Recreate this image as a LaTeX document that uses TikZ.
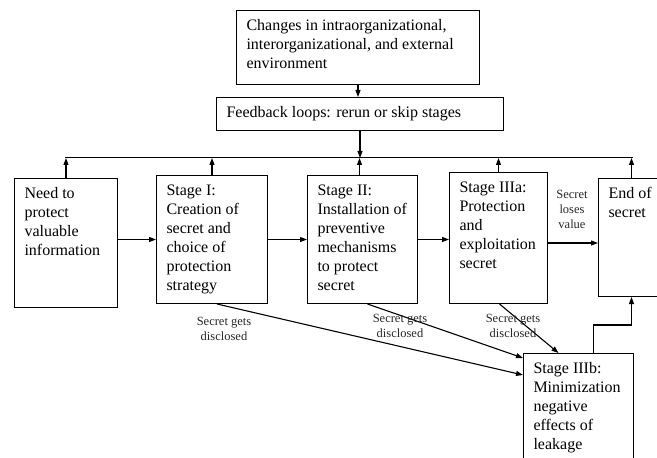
\documentclass[tikz,border=0pt]{standalone}
\usepackage{fontspec}
\setmainfont{Liberation Serif}
\usetikzlibrary{arrows.meta,calc}
\newcommand{\bxtext}[3]{\hspace*{10bp}\parbox[t][\dimexpr#2bp-14bp\relax][t]{\dimexpr#1bp-20bp\relax}{\raggedright\strut#3}\hspace*{10bp}}
\tikzset{
  stagebox/.style={draw, line width=1bp, inner xsep=0pt, inner ysep=7bp, anchor=north west,
    text=black, font=\fontsize{16bp}{19bp}\selectfont},
  arr/.style={line width=1.1bp, -{Triangle[length=7bp,width=5bp]}},
  lbl/.style={font=\fontsize{12.5bp}{15bp}\selectfont, align=center, inner sep=0pt, text=black!85},
}
\begin{document}
\begin{tikzpicture}[x=1bp,y=-1bp]
\useasboundingbox (0,0) rectangle (657,458);
\node[stagebox] (top) at (236,10) {\bxtext{243}{74}{Changes in intraorganizational,\\ interorganizational, and external\\ environment}};
\node[stagebox] (fb) at (216,97) {\bxtext{287}{33}{Feedback loops: rerun or skip stages}};
\node[stagebox] (need) at (14,178) {\bxtext{103}{129}{Need to\\ protect\\ valuable\\ information}};
\node[stagebox] (s1) at (156,175) {\bxtext{111}{128}{Stage I:\\ Creation of\\ secret and\\ choice of\\ protection\\ strategy}};
\node[stagebox] (s2) at (307,175) {\bxtext{110}{128}{Stage II:\\ Installation of\\ preventive\\ mechanisms\\ to protect\\ secret}};
\node[stagebox] (s3a) at (449,172) {\bxtext{98}{131}{Stage IIIa:\\ Protection\\ and\\ exploitation\\ secret}};
\node[stagebox] (end) at (598,178) {\bxtext{66}{118}{End of\\ secret}};
\node[stagebox] (s3b) at (523,353) {\bxtext{110}{120}{Stage IIIb:\\ Minimization\\ negative\\ effects of\\ leakage}};

% feedback bus
\coordinate (busL) at (65,158);
\coordinate (busR) at (633,158);
\draw[line width=1bp] (busL) -- (busR);
\draw[arr] (top.south) -- (top.south |- fb.north);
\draw[arr] (fb.south) -- (fb.south |- busL);
\coordinate (s2t) at ([xshift=-3bp]s2.north);
\draw[arr] (need.north) -- (need.north |- busL);
\draw[arr] (s1.north) -- (s1.north |- busL);
\draw[arr] (s2t) -- (s2t |- busL);
\draw[arr] (s3a.north) -- (s3a.north |- busL);
\draw[arr] (end.north) -- (end.north |- busL);

% main flow
\draw[arr] (need.east |- s1.west) -- (s1.west);
\draw[arr] (s1.east) -- (s2.west);
\draw[arr] (s2.east) -- (s2.east -| s3a.west);
\coordinate (a4) at ([yshift=-5bp]s3a.east);
\draw[arr] (a4) -- (a4 -| end.west);
\node[lbl] (lose) at (572,209) {Secret\\loses\\value};

% disclosure
\draw[arr] ([xshift=5bp]s1.south) -- ($(s3b.north west)+(0,22)$);
\draw[arr] ([xshift=5bp]s2.south) -- ($(s3b.north west)+(0,5)$);
\draw[arr] ([xshift=1bp]s3a.south) -- ($(s3b.north)+(-20,0)$);
\draw[arr] ([xshift=15bp]s3b.north) -- ++(0,-28) -| (end.south);
\node[lbl] (d1) at (224,329) {Secret gets\\disclosed};
\node[lbl] (d2) at (400,326) {Secret gets\\disclosed};
\node[lbl] (d3) at (513,326) {Secret gets\\disclosed};
\end{tikzpicture}
\end{document}
